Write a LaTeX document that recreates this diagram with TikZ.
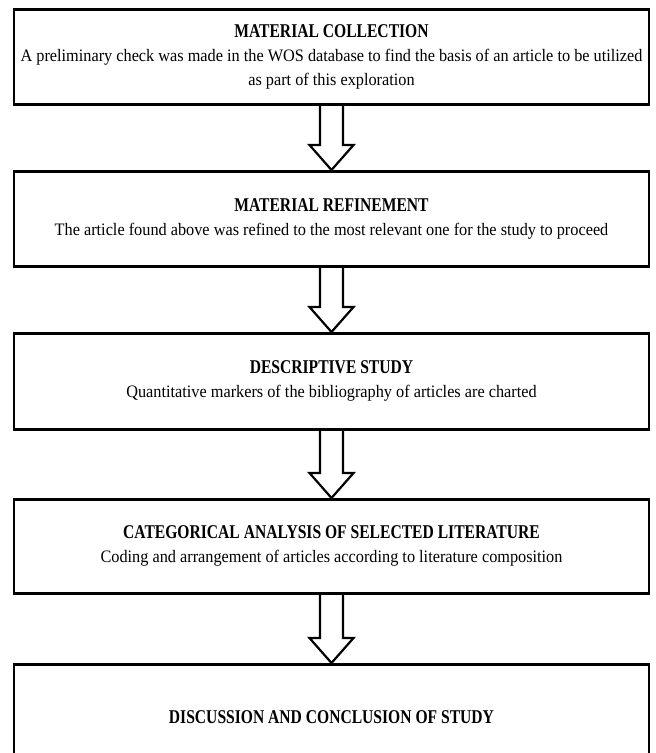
\documentclass[tikz,border=0pt]{standalone}
\usepackage{fontspec}
\setmainfont{Liberation Serif}[FakeStretch=0.93]
\newfontfamily\stagetitlefont{Liberation Serif Bold}[FakeStretch=0.8]
\usetikzlibrary{calc}

\newcommand{\stagetitle}[1]{{\stagetitlefont\fontsize{19.5}{24}\selectfont #1}}

\tikzset{
  stagebox/.style={draw, line width=2.5pt, minimum width=635pt, align=center,
    font=\fontsize{17.5}{24}\selectfont, anchor=north, inner sep=0pt},
  hollowarrow/.style={draw, line width=2.2pt, line join=miter},
}

\begin{document}
\begin{tikzpicture}[x=1pt, y=-1pt]
  \useasboundingbox (0,0) rectangle (656,753);
  \clip (0,0) rectangle (656,753);
  % Stages
  \node[stagebox, minimum height=95pt] (collect) at (331.5,8)
    {\stagetitle{MATERIAL COLLECTION}\\
     A preliminary check was made in the WOS database to find the basis of an article to be utilized\\
     as part of this exploration};
  \node[stagebox, minimum height=95pt] (refine) at (331.5,170)
    {\stagetitle{MATERIAL REFINEMENT}\\
     The article found above was refined to the most relevant one for the study to proceed};
  \node[stagebox, minimum height=96pt] (describe) at (331.5,332)
    {\stagetitle{DESCRIPTIVE STUDY}\\
     Quantitative markers of the bibliography of articles are charted};
  \node[stagebox, minimum height=94pt] (categorize) at (331.5,498)
    {\stagetitle{CATEGORICAL ANALYSIS OF SELECTED LITERATURE}\\
     Coding and arrangement of articles according to literature composition};
  \node[stagebox, minimum height=106pt] (conclude) at (331.5,663)
    {\stagetitle{DISCUSSION AND CONCLUSION OF STUDY}};
  % Hollow arrows between stages
  \foreach \up/\down in {collect/refine, refine/describe, describe/categorize, categorize/conclude} {
    \draw[hollowarrow] ($(\up.south)+(-11.5,0)$) -- ($(\down.north)+(-11.5,-25)$)
      -- ($(\down.north)+(-22,-25)$) -- (\down.north) -- ($(\down.north)+(22,-25)$)
      -- ($(\down.north)+(11.5,-25)$) -- ($(\up.south)+(11.5,0)$);
  }
\end{tikzpicture}
\end{document}
